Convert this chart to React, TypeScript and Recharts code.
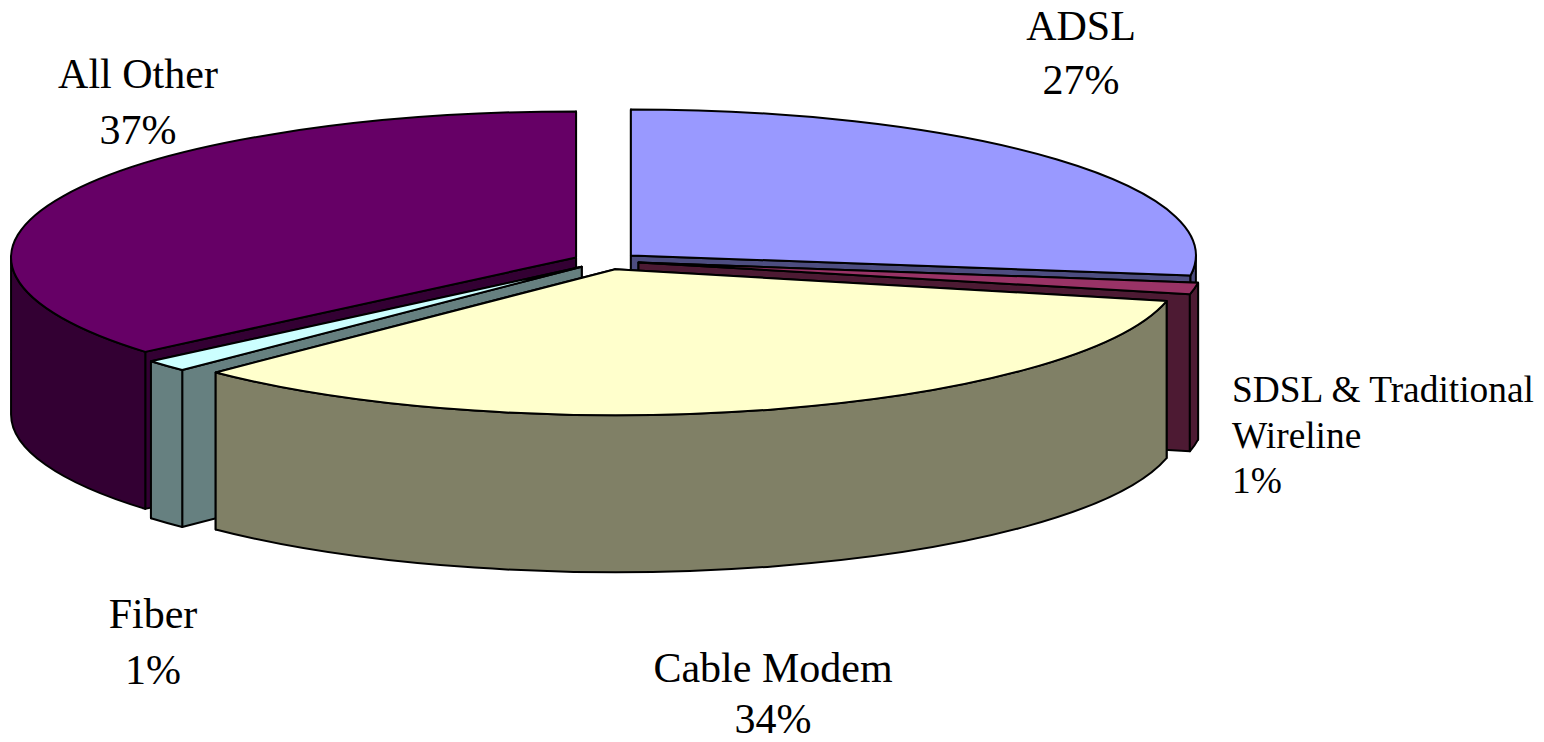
import { Pie, PieChart } from 'recharts';

const names = ['ADSL', 'SDSL & Traditional Wireline', 'Cable Modem', 'Fiber', 'All Other'];
const shares = [27.2, 1.3, 34, 1.3, 36.2];
const shareLabels = ['27%', '1%', '34%', '1%', '37%'];
const topColors = ['#9999FF', '#993366', '#FFFFCC', '#CCFFFF', '#660066'];
const sideColors = ['#4D4D80', '#4D1A33', '#808066', '#668080', '#330033'];
const labelLines = [['ADSL'], ['SDSL & Traditional', 'Wireline'], ['Cable Modem'], ['Fiber'], ['All Other']];

const pieData = names.map((name, i) => ({ name, value: shares[i] }));

// the 3D look: squashed circle, extruded downwards, slices pulled out from the centre
const TILT = 146 / 565;
const DEPTH = 157;
const EXPLODE = 33;

const labelSpots = [
  { x: 1081, y: 40, anchor: 'middle', size: 42, gap: 54 },
  { x: 1232, y: 402, anchor: 'start', size: 37.4, gap: 45.5 },
  { x: 773, y: 682, anchor: 'middle', size: 42, gap: 51 },
  { x: 153, y: 628, anchor: 'middle', size: 42, gap: 56 },
  { x: 138, y: 88, anchor: 'middle', size: 42, gap: 56 },
];

// painter's order, back to front
const layers = [['ADSL', 'SDSL & Traditional Wireline'], ['All Other'], ['Fiber'], ['Cable Modem']];

const rad = (deg: number) => (deg * Math.PI) / 180;

function makeSlice(only: string[]) {
  return function Slice(props: any) {
    const { cx, cy, outerRadius, startAngle, endAngle, name } = props;
    const idx = names.indexOf(name);
    if (!only.includes(name)) return <g />;

    // angles clockwise from 12 o'clock
    const from = 90 - startAngle;
    const to = 90 - endAngle;
    const rx = outerRadius;
    const ry = outerRadius * TILT;
    const mid = rad((from + to) / 2);
    const ax = cx + EXPLODE * Math.sin(mid);
    const ay = cy - EXPLODE * Math.cos(mid) * TILT;
    const px = (t: number) => ax + rx * Math.sin(rad(t));
    const py = (t: number) => ay - ry * Math.cos(rad(t));

    const line = { stroke: '#000', strokeWidth: 2, strokeLinejoin: 'round' as const };
    const side = sideColors[idx];

    const radial = (t: number) =>
      `M${ax},${ay} L${px(t)},${py(t)} L${px(t)},${py(t) + DEPTH} L${ax},${ay + DEPTH} Z`;
    // the face turned towards the viewer has to land on top of the other one
    const startFront = Math.cos(rad(from - 90)) < 0;
    const faces = startFront ? [to, from] : [from, to];

    const wallFrom = Math.max(from, 90);
    const wallTo = Math.min(to, 270);
    const hasWall = wallTo > wallFrom;
    const wall = `M${px(wallFrom)},${py(wallFrom)} A${rx},${ry} 0 0 1 ${px(wallTo)},${py(wallTo)} L${px(wallTo)},${py(wallTo) + DEPTH} A${rx},${ry} 0 0 0 ${px(wallFrom)},${py(wallFrom) + DEPTH} Z`;

    const large = to - from > 180 ? 1 : 0;
    const top = `M${ax},${ay} L${px(from)},${py(from)} A${rx},${ry} 0 ${large} 1 ${px(to)},${py(to)} Z`;

    return (
      <g>
        {faces.map((t) => (
          <path key={t} d={radial(t)} fill={side} {...line} />
        ))}
        {hasWall && <path d={wall} fill={side} {...line} />}
        <path d={top} fill={topColors[idx]} {...line} />
      </g>
    );
  };
}

function sliceLabel(props: any) {
  const { index } = props;
  const spot = labelSpots[index];
  const lines = [...labelLines[index], shareLabels[index]];
  return (
    <text
      key={index}
      textAnchor={spot.anchor as any}
      fontFamily="'Liberation Serif', serif"
      fontSize={spot.size}
      fill="#000"
    >
      {lines.map((l, i) => (
        <tspan key={l} x={spot.x} y={spot.y + i * spot.gap}>
          {l}
        </tspan>
      ))}
    </text>
  );
}

export default function App() {
  return (
    <div style={{ position: 'absolute', left: 0, top: 0, width: 1544, height: 742, background: '#fff' }}>
      <PieChart width={1544} height={742} margin={{ top: 0, right: 0, bottom: 0, left: 0 }}>
        {layers.map((layer, i) => (
          <Pie
            key={layer[0]}
            data={pieData}
            dataKey="value"
            nameKey="name"
            cx={606}
            cy={261}
            innerRadius={0}
            outerRadius={565}
            startAngle={90}
            endAngle={-270}
            stroke="none"
            isAnimationActive={false}
            labelLine={false}
            label={i === layers.length - 1 ? sliceLabel : false}
            shape={makeSlice(layer)}
          />
        ))}
      </PieChart>
    </div>
  );
}
